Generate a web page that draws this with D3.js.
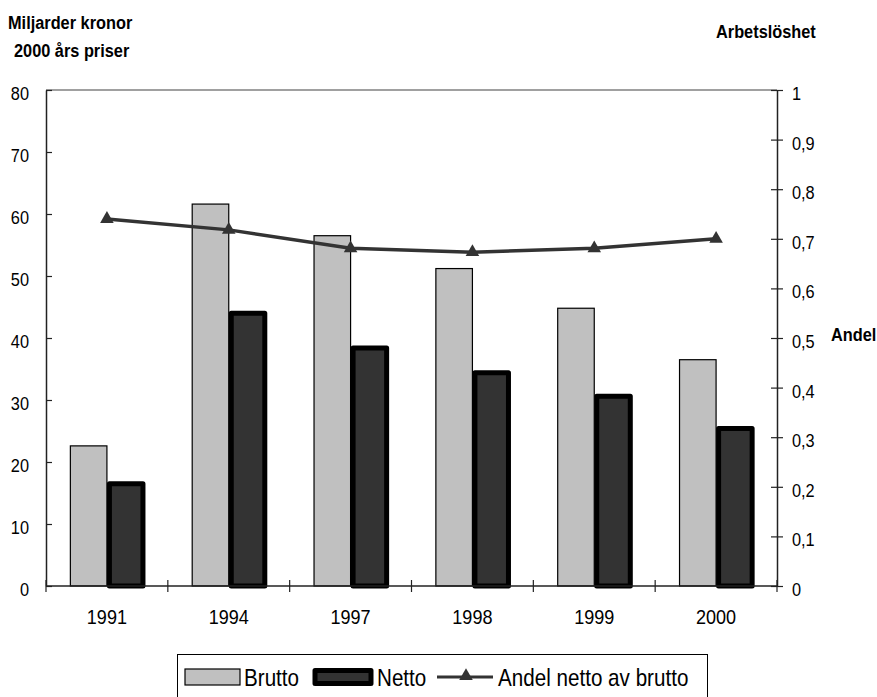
<!DOCTYPE html>
<html>
<head>
<meta charset="utf-8">
<script src="https://cdn.jsdelivr.net/npm/d3@7"></script>
<style>
  body { margin: 0; background: #fff; }
  svg { display: block; font-family: "Liberation Sans", Arial, sans-serif; }
</style>
</head>
<body>
<div class="canvas"></div>
<script>
// data
const years = ['1991', '1994', '1997', '1998', '1999', '2000'];
const brutto = [22.6, 61.6, 56.5, 51.2, 44.8, 36.5];
const netto = [16.5, 44.0, 38.4, 34.4, 30.6, 25.4];
const andel = [0.74, 0.718, 0.681, 0.673, 0.681, 0.70];
const leftTicks = [0, 10, 20, 30, 40, 50, 60, 70, 80];
const rightTicks = [0, 0.1, 0.2, 0.3, 0.4, 0.5, 0.6, 0.7, 0.8, 0.9, 1];

const margin = { top: 90, right: 100, bottom: 111, left: 46 };
const width = 877, height = 697;
const graphWidth = width - margin.left - margin.right;
const graphHeight = height - margin.top - margin.bottom;
const sx = 0.86; // squeeze text to look like a narrow font

const svg = d3.select('.canvas')
    .append('svg')
    .attr('width', width)
    .attr('height', height);

const graph = svg.append('g')
    .attr('transform', `translate(${margin.left}, ${margin.top})`);

// narrow text helper
const txt = (parent, t, px, py, size, opts = {}) => parent.append('text')
    .attr('transform', `translate(${px},${py}) scale(${sx},1)`)
    .attr('text-anchor', opts.anchor || 'start')
    .attr('font-size', size)
    .attr('font-weight', opts.bold ? 'bold' : 'normal')
    .attr('fill', '#000')
    .text(t);

// scales
const x = d3.scaleBand().domain(years).range([0, graphWidth]);
const y = d3.scaleLinear().domain([0, 80]).range([graphHeight, 0]);
const y2 = d3.scaleLinear().domain([0, 1]).range([graphHeight, 0]);

const bw = x.bandwidth() * 0.3;
const cx = i => x(years[i]) + x.bandwidth() / 2;

// top frame line
graph.append('line')
    .attr('x1', 0).attr('x2', graphWidth)
    .attr('y1', 0).attr('y2', 0)
    .attr('stroke', '#808080').attr('stroke-width', 1.5);

// bars
graph.selectAll('rect.brutto')
    .data(brutto)
    .enter().append('rect')
    .attr('class', 'brutto')
    .attr('x', (d, i) => cx(i) - bw)
    .attr('y', d => y(d))
    .attr('width', bw)
    .attr('height', d => graphHeight - y(d))
    .attr('fill', '#c0c0c0')
    .attr('stroke', '#000')
    .attr('stroke-width', 1.2);

graph.selectAll('rect.netto')
    .data(netto)
    .enter().append('rect')
    .attr('class', 'netto')
    .attr('x', (d, i) => cx(i) + 2.5)
    .attr('y', d => y(d))
    .attr('width', bw - 3)
    .attr('height', d => graphHeight - y(d))
    .attr('fill', '#333')
    .attr('stroke', '#000')
    .attr('stroke-width', 5)
    .attr('stroke-linejoin', 'round');

// axes
const styleAxis = (g, size) => {
    g.select('.domain').attr('stroke', '#222').attr('stroke-width', 1.5);
    g.selectAll('.tick line').attr('stroke', '#222').attr('stroke-width', 1.2);
    g.selectAll('.tick text')
        .attr('fill', '#000')
        .attr('font-size', size)
        .attr('font-family', '"Liberation Sans", Arial, sans-serif')
        .attr('dy', '0.5em')
        .attr('x', function () { return +this.getAttribute('x') / sx; })
        .attr('transform', `scale(${sx},1)`);
};

const yAxis = d3.axisLeft(y).tickValues(leftTicks).tickSize(6).tickPadding(11).tickSizeOuter(0);
const yg = graph.append('g').call(yAxis);
yg.selectAll('.tick line').attr('x2', 6);
styleAxis(yg, 19);

const yAxis2 = d3.axisRight(y2).tickValues(rightTicks).tickSize(6).tickPadding(9).tickSizeOuter(0)
    .tickFormat(d => d === 0 || d === 1 ? d : d3.format('.1f')(d).replace('.', ','));
const yg2 = graph.append('g').attr('transform', `translate(${graphWidth},0)`).call(yAxis2);
yg2.selectAll('.tick line').attr('x1', -6);
styleAxis(yg2, 19);

// x axis with ticks on category boundaries
const xg = graph.append('g').attr('transform', `translate(0,${graphHeight})`);
xg.append('line').attr('x1', 0).attr('x2', graphWidth)
    .attr('stroke', '#222').attr('stroke-width', 1.5);
xg.selectAll('line.tk')
    .data(years.concat(['end']))
    .enter().append('line')
    .attr('class', 'tk')
    .attr('x1', d => d === 'end' ? graphWidth : x(d))
    .attr('x2', d => d === 'end' ? graphWidth : x(d))
    .attr('y1', -6).attr('y2', 6)
    .attr('stroke', '#222').attr('stroke-width', 1.2);
years.forEach((d, i) => txt(xg, d, cx(i), 38, 21, { anchor: 'middle' }));

// line
const line = d3.line()
    .x((d, i) => cx(i))
    .y(d => y2(d));

graph.append('path')
    .datum(andel)
    .attr('fill', 'none')
    .attr('stroke', '#333')
    .attr('stroke-width', 3.5)
    .attr('d', line);

const tri = d3.symbol().type(d3.symbolTriangle).size(80);
graph.selectAll('path.mk')
    .data(andel)
    .enter().append('path')
    .attr('class', 'mk')
    .attr('d', tri)
    .attr('fill', '#333')
    .attr('transform', (d, i) => `translate(${cx(i)},${y2(d)})`);

// titles
txt(svg, 'Miljarder kronor', 8, 29, 19, { bold: true });
txt(svg, '2000 års priser', 14, 57, 19, { bold: true });
txt(svg, 'Arbetslöshet', 716, 38, 19, { bold: true });
txt(svg, 'Andel', 831, 341, 19, { bold: true });

// legend
const legend = svg.append('g');
legend.append('rect')
    .attr('x', 177.5).attr('y', 654.5)
    .attr('width', 530).attr('height', 60)
    .attr('fill', '#fff').attr('stroke', '#000').attr('stroke-width', 1);

legend.append('rect')
    .attr('x', 185).attr('y', 669).attr('width', 55).attr('height', 16)
    .attr('fill', '#c0c0c0').attr('stroke', '#000').attr('stroke-width', 1.2);
txt(legend, 'Brutto', 244, 686, 24);

legend.append('rect')
    .attr('x', 315).attr('y', 670.5).attr('width', 56).attr('height', 13)
    .attr('fill', '#333').attr('stroke', '#000').attr('stroke-width', 5)
    .attr('stroke-linejoin', 'round');
txt(legend, 'Netto', 377, 686, 24);

legend.append('line')
    .attr('x1', 437).attr('x2', 493).attr('y1', 677).attr('y2', 677)
    .attr('stroke', '#333').attr('stroke-width', 3);
legend.append('path').attr('d', tri).attr('fill', '#333')
    .attr('transform', 'translate(466,676)');
txt(legend, 'Andel netto av brutto', 498, 686, 24);
</script>
</body>
</html>
